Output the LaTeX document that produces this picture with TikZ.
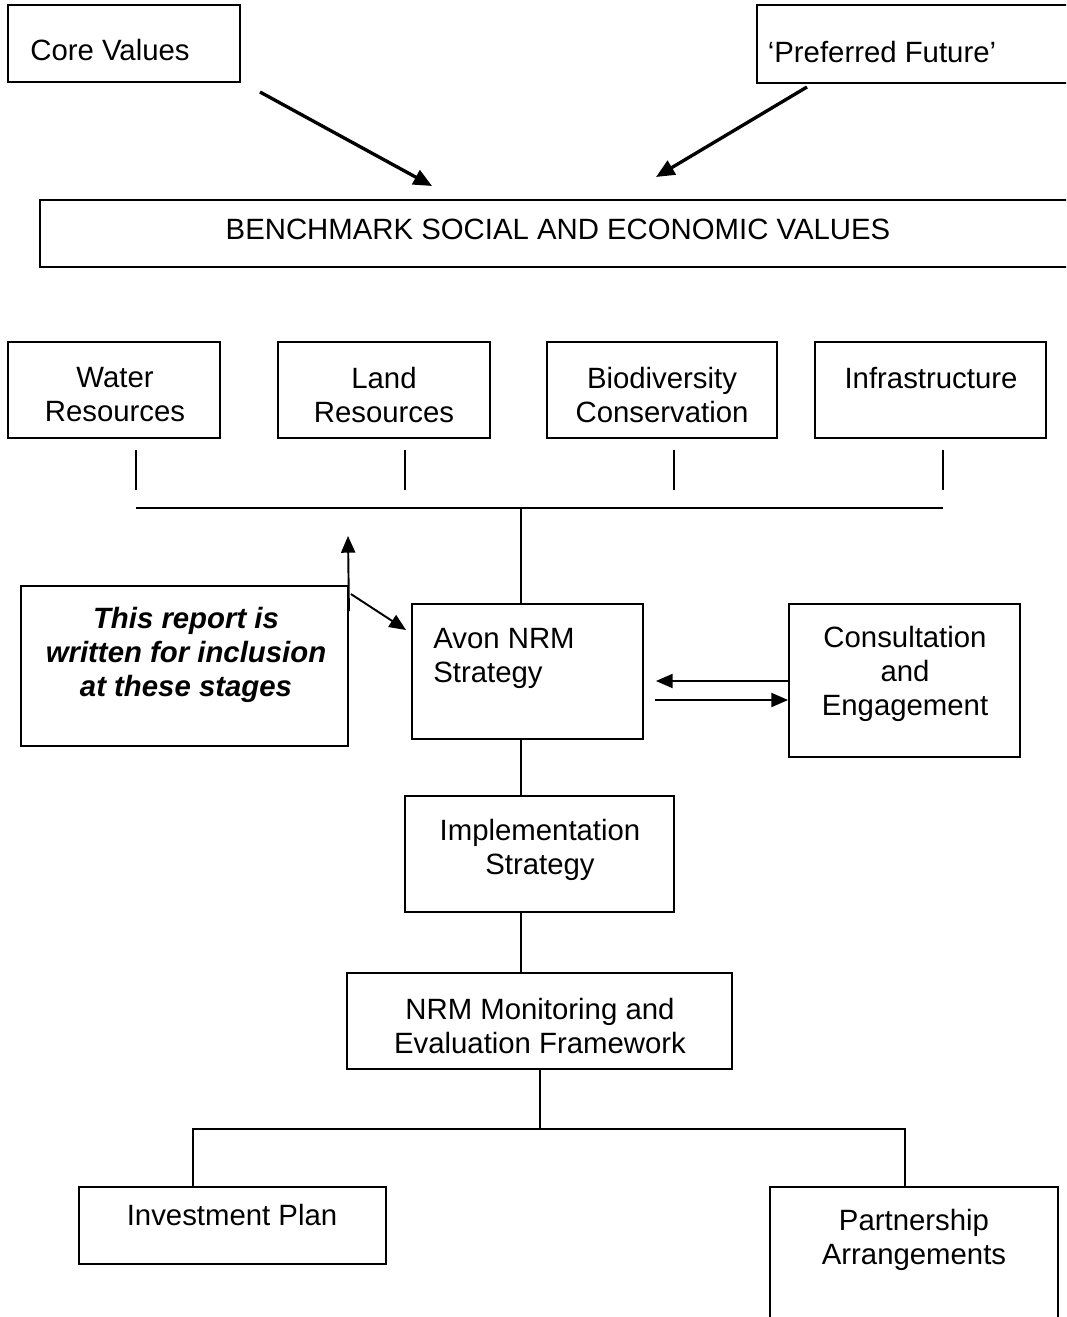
\documentclass[tikz,border=0pt]{standalone}
\usepackage{fontspec}
\setmainfont{Liberation Sans}
\usepackage{tikz}
\usetikzlibrary{arrows.meta,calc}

\begin{document}
\begin{tikzpicture}[x=0.02cm,y=-0.02cm,
    box/.style={draw,line width=1.1pt,inner sep=0pt},
    txt/.style={inner sep=0pt,align=center,font=\fontsize{16.7pt}{19.4pt}\selectfont},
    arr/.style={line width=1.1pt,-{Triangle[length=9.5pt,width=8pt]}},
    bigarr/.style={line width=1.9pt,-{Triangle[length=10.5pt,width=9pt]}}]
    \useasboundingbox (0,0) rectangle (1066,1317);
    \clip (0,0) rectangle (1066,1317);

    \node (core) at (124,43.5) [box,minimum width=4.64cm,minimum height=1.54cm] {};
    \node (future) at (923.5,44) [box,minimum width=6.66cm,minimum height=1.56cm] {};
    \node (bench) at (565,233.5) [box,minimum width=21cm,minimum height=1.34cm] {};

    \node (water) at (114,390) [box,minimum width=4.24cm,minimum height=1.92cm] {};
    \node (land) at (384,390) [box,minimum width=4.24cm,minimum height=1.92cm] {};
    \node (bio) at (662,390) [box,minimum width=4.6cm,minimum height=1.92cm] {};
    \node (infra) at (930.5,390) [box,minimum width=4.62cm,minimum height=1.92cm] {};

    \node (report) at (184.5,666) [box,minimum width=6.54cm,minimum height=3.2cm] {};
    \node (avon) at (527.5,671.5) [box,minimum width=4.62cm,minimum height=2.7cm] {};
    \node (consult) at (904.5,680.5) [box,minimum width=4.62cm,minimum height=3.06cm] {};
    \node (impl) at (539.5,854) [box,minimum width=5.38cm,minimum height=2.32cm] {};
    \node (mande) at (539.5,1021) [box,minimum width=7.7cm,minimum height=1.92cm] {};
    \node (invest) at (232.5,1225.5) [box,minimum width=6.14cm,minimum height=1.54cm] {};
    \node (partner) at (914,1263.5) [box,minimum width=5.76cm,minimum height=3.06cm] {};

    % box texts
    \node (coreT) at (110,50) [txt] {Core Values};
    \node (futureT) at (882,52) [txt] {‘Preferred Future’};
    \node (benchT) at (558,229) [txt] {BENCHMARK SOCIAL AND ECONOMIC VALUES};
    \node (waterT) at (115,395) [txt] {Water\\Resources};
    \node (landT) at (384,395) [txt] {Land\\Resources};
    \node (bioT) at (662,395) [txt] {Biodiversity\\Conservation};
    \node (infraT) at (931,378) [txt] {Infrastructure};
    \node (reportT) at (186,655) [txt,font=\fontsize{16.7pt}{19.4pt}\selectfont\bfseries\itshape]
        {This report is\\written for inclusion\\at these stages};
    \node (avonT) at (433,658) [txt,align=left,anchor=west] {Avon NRM\\Strategy};
    \node (consultT) at (905,674) [txt] {Consultation\\and\\Engagement};
    \node (implT) at (540,850) [txt] {Implementation\\Strategy};
    \node (mandeT) at (540,1026) [txt] {NRM Monitoring and\\Evaluation Framework};
    \node (investT) at (232,1215) [txt] {Investment Plan};
    \node (partnerT) at (914,1240) [txt] {Partnership\\Arrangements};

    % arrows into the benchmark box
    \coordinate (coreA) at (260,92);
    \coordinate (coreB) at (432,186);
    \coordinate (futA) at (807,87);
    \coordinate (futB) at (656,177);
    \draw[bigarr] (coreA) -- (coreB);
    \draw[bigarr] (futA) -- (futB);

    % ticks and bus
    \foreach \x/\n in {136/1,405/2,674/3,943/4} {
        \coordinate (tickA\n) at (\x,450);
        \coordinate (tickB\n) at (\x,490);
        \draw[line width=1.1pt] (tickA\n) -- (tickB\n);
    }
    \coordinate (busW) at (136,508);
    \coordinate (busM) at (521,508);
    \coordinate (busE) at (943,508);
    \draw[line width=1.1pt] (busW) -- (busE);
    \draw[line width=1.1pt] (busM) -- (busM |- avon.north);
    \draw[line width=1.1pt] (busM |- avon.south) -- (busM |- impl.north);
    \draw[line width=1.1pt] (busM |- impl.south) -- (busM |- mande.north);

    % report arrows
    \coordinate (upTip) at (348,536);
    \draw[arr] ($(report.north east)+(0,26)$) -- (upTip);
    \draw[arr] ($(report.north east)+(2,9)$) -- ($(avon.west)+(-5,-41.5)$);

    % strategy and consultation
    \draw[arr] ($(consult.west)+(0,0.5)$) -- ($(avon.east)+(12,9.5)$);
    \draw[arr] ($(avon.east)+(11,28.5)$) -- ($(consult.west)+(0,19.5)$);

    % split to the bottom boxes
    \coordinate (spL) at (193,1129);
    \coordinate (spM) at (540,1129);
    \coordinate (spR) at (905,1129);
    \draw[line width=1.1pt] (spM |- mande.south) -- (spM);
    \draw[line width=1.1pt] (spL |- invest.north) -- (spL) -- (spR) -- (spR |- partner.north);
\end{tikzpicture}
\end{document}
